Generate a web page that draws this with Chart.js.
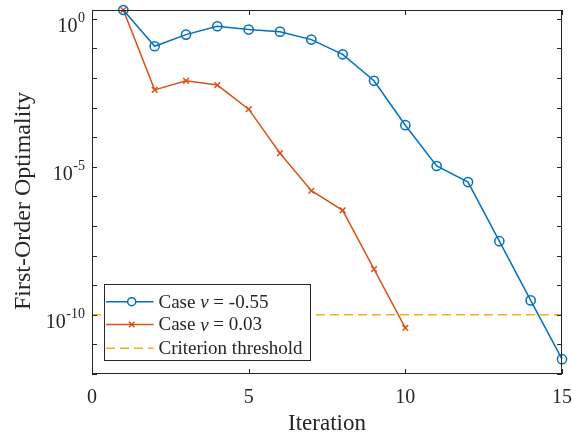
<!DOCTYPE html>
<html><head><meta charset="utf-8">
<script src="https://cdn.jsdelivr.net/npm/chart.js@4.4.0/dist/chart.umd.min.js"></script>
<style>html,body{margin:0;padding:0;background:#fff;} #wrap{width:572px;height:434px;}</style>
</head><body><div id="wrap"><canvas id="c" width="572" height="434"></canvas></div>
<script>
// ---- data ----
const iterationsA = [1,2,3,4,5,6,7,8,9,10,11,12,13,14,15];
const optimalityA = [2, 0.119, 0.295, 0.565, 0.436, 0.371, 0.2, 0.0635, 0.0081, 2.56e-4, 1.07e-5, 3.07e-6, 3.07e-8, 3.07e-10, 3.16e-12];
const iterationsB = [1,2,3,4,5,6,7,8,9,10];
const optimalityB = [2, 4.0e-3, 8.1e-3, 5.8e-3, 8.9e-4, 2.9e-5, 1.56e-6, 3.4e-7, 3.5e-9, 3.6e-11];
const thresholdX = [0, 15];
const thresholdValue = 1e-10;
const xTickValues = [0, 5, 10, 15];
const yLabelExponents = [0, -5, -10];
const yTickExponents = [0,-1,-2,-3,-4,-5,-6,-7,-8,-9,-10,-11,-12];
const labelA = 'Case ν = -0.55';
const labelB = 'Case ν = 0.03';
const labelT = 'Criterion threshold';
const xTitle = 'Iteration';
const yTitle = 'First-Order Optimality';

const BLUE = '#0072BD', RED = '#D95319', YEL = '#EDB120', AX = '#262626';
const FONT = '"Liberation Serif", "Times New Roman", serif';

const pts = (xs, ys) => xs.map((x, i) => ({x, y: ys[i]}));

const drawPlugin = {
  id: 'matlabAxes',
  afterDraw(chart) {
    const ctx = chart.ctx, a = chart.chartArea;
    const xs = chart.scales.x, ys = chart.scales.y;
    ctx.save();
    // frame
    ctx.strokeStyle = AX; ctx.lineWidth = 1;
    ctx.strokeRect(Math.round(a.left) + 0.5, Math.round(a.top) + 0.5,
      Math.round(a.right - a.left) - 1, Math.round(a.bottom - a.top) - 1);
    // ticks inward
    ctx.beginPath();
    const L = 5;
    xTickValues.forEach(v => {
      const px = Math.round(xs.getPixelForValue(v)) + 0.5;
      ctx.moveTo(px, a.bottom); ctx.lineTo(px, a.bottom - L);
      ctx.moveTo(px, a.top); ctx.lineTo(px, a.top + L);
    });
    yTickExponents.forEach(e => {
      const py = Math.round(ys.getPixelForValue(Math.pow(10, e))) + 0.5;
      ctx.moveTo(a.left, py); ctx.lineTo(a.left + L, py);
      ctx.moveTo(a.right, py); ctx.lineTo(a.right - L, py);
    });
    ctx.stroke();
    // x tick labels
    ctx.fillStyle = AX;
    ctx.font = '20px ' + FONT;
    ctx.textAlign = 'center'; ctx.textBaseline = 'alphabetic';
    xTickValues.forEach(v => {
      ctx.fillText(String(v), xs.getPixelForValue(v), a.bottom + 28.5);
    });
    // y tick labels with superscripts
    yLabelExponents.forEach(e => {
      const py = ys.getPixelForValue(Math.pow(10, e));
      const expStr = String(e);
      ctx.font = '14px ' + FONT;
      const ew = ctx.measureText(expStr).width;
      const right = 85;
      ctx.textAlign = 'left';
      ctx.fillText(expStr, right - ew, py + 3.3);
      ctx.font = '20px ' + FONT;
      ctx.textAlign = 'right';
      ctx.fillText('10', right - ew - 0.5, py + 13);
    });
    // titles
    ctx.font = '23px ' + FONT;
    ctx.textAlign = 'center';
    ctx.fillText(xTitle, (a.left + a.right) / 2, 430);
    ctx.save();
    ctx.translate(23.5, 201);
    ctx.rotate(-Math.PI / 2);
    ctx.font = '24px ' + FONT;
    ctx.textBaseline = 'middle';
    ctx.fillText(yTitle, 0, 0);
    ctx.restore();
    // legend
    const bx = 104.5, by = 284.5, bw = 206, bh = 76;
    ctx.fillStyle = '#fff';
    ctx.fillRect(bx, by, bw, bh);
    ctx.strokeStyle = AX; ctx.lineWidth = 1;
    ctx.strokeRect(bx, by, bw, bh);
    const rows = [301.7, 324.5, 348.3];
    const entries = [
      {label: labelA, color: BLUE, marker: 'o', dash: []},
      {label: labelB, color: RED, marker: 'x', dash: []},
      {label: labelT, color: YEL, marker: null, dash: [9, 5]}
    ];
    entries.forEach((en, i) => {
      const y = rows[i];
      ctx.strokeStyle = en.color; ctx.lineWidth = 1.5;
      ctx.setLineDash(en.dash);
      ctx.beginPath(); ctx.moveTo(106, y); ctx.lineTo(153.5, y); ctx.stroke();
      ctx.setLineDash([]);
      if (en.marker === 'o') {
        ctx.fillStyle = '#fff';
        ctx.beginPath(); ctx.arc(131.7, y, 4, 0, Math.PI * 2); ctx.fill(); ctx.stroke();
      } else if (en.marker === 'x') {
        ctx.beginPath();
        ctx.moveTo(129, y - 2.7); ctx.lineTo(134.4, y + 2.7);
        ctx.moveTo(129, y + 2.7); ctx.lineTo(134.4, y - 2.7);
        ctx.stroke();
      }
      // text with italic nu
      ctx.fillStyle = AX; ctx.textAlign = 'left'; ctx.textBaseline = 'middle';
      let tx = 158.5;
      const parts = en.label.split('ν');
      parts.forEach((p, k) => {
        ctx.font = '19px ' + FONT;
        ctx.fillText(p, tx, y + 1);
        tx += ctx.measureText(p).width;
        if (k < parts.length - 1) {
          ctx.font = 'italic 19px ' + FONT;
          ctx.fillText('ν', tx, y + 1);
          tx += ctx.measureText('ν').width;
        }
      });
    });
    ctx.restore();
  }
};

new Chart(document.getElementById('c'), {
  type: 'line',
  data: {
    datasets: [
      {label: labelA, data: pts(iterationsA, optimalityA), borderColor: BLUE, borderWidth: 1.5,
       pointStyle: 'circle', pointRadius: 4.6, pointBorderWidth: 1.5, pointBorderColor: BLUE,
       pointBackgroundColor: 'rgba(0,0,0,0)', clip: false, tension: 0},
      {label: labelB, data: pts(iterationsB, optimalityB), borderColor: RED, borderWidth: 1.5,
       pointStyle: 'crossRot', pointRadius: 4, pointBorderWidth: 1.5, pointBorderColor: RED,
       clip: false, tension: 0},
      {label: labelT, data: pts(thresholdX, [thresholdValue, thresholdValue]), borderColor: YEL,
       borderWidth: 1.5, borderDash: [9, 5], pointRadius: 0, tension: 0}
    ]
  },
  options: {
    responsive: false, animation: false, devicePixelRatio: 1,
    layout: {padding: {left: 92, top: 10, right: 10, bottom: 60}},
    scales: {
      x: {type: 'linear', min: 0, max: 15, display: false},
      y: {type: 'logarithmic', min: 1e-12, max: 2, display: false}
    },
    plugins: {legend: {display: false}, tooltip: {enabled: false}}
  },
  plugins: [drawPlugin]
});
</script></body></html>
